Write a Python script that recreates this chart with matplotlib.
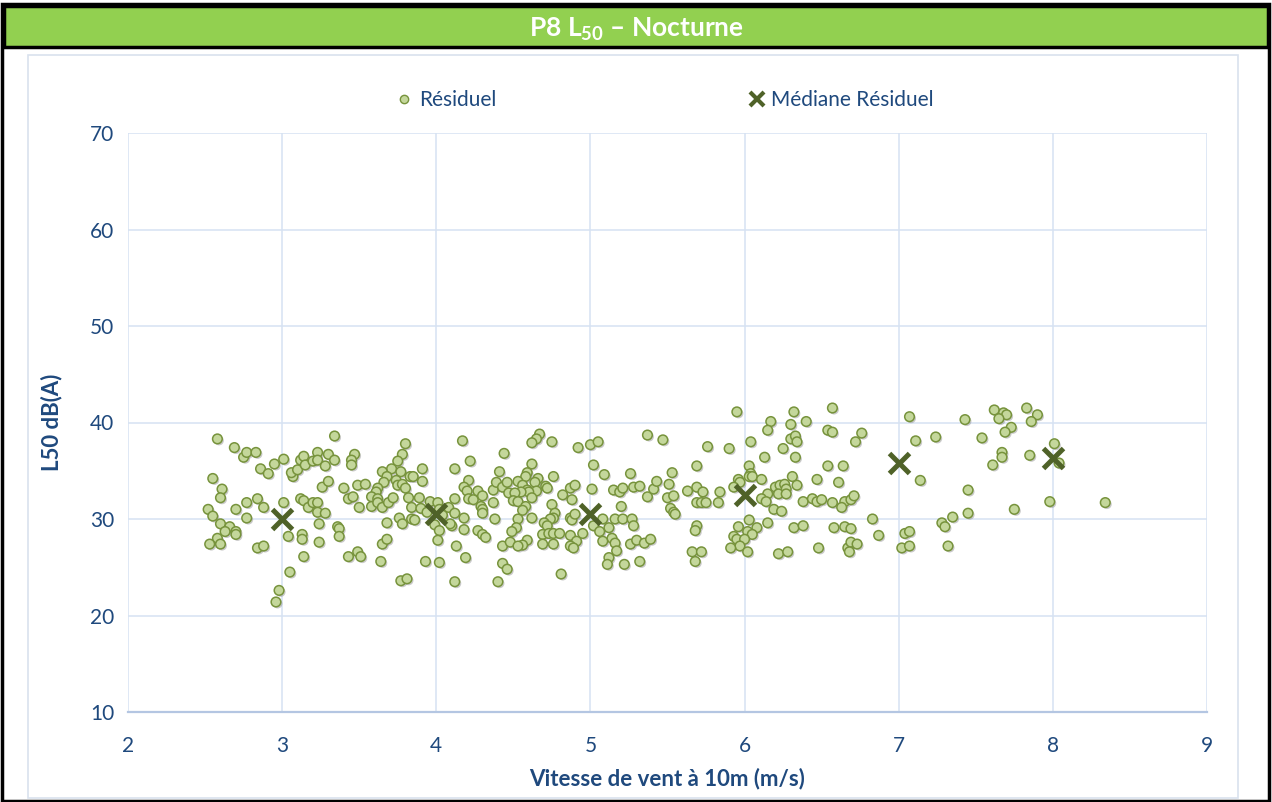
import matplotlib
matplotlib.use("Agg")
import matplotlib.pyplot as plt
import matplotlib.patheffects as pe
from matplotlib.patches import Rectangle
from matplotlib.lines import Line2D

plt.rcParams.update({
    "font.family": ["Lato", "DejaVu Sans"],
    "mathtext.fontset": "custom",
    "mathtext.rm": "Lato",
    "mathtext.bf": "Lato:bold",
})

NAVY = "#1F497D"
GRID = "#D6E2F2"
GREEN_HEAD = "#92D050"
PT_FILL = "#C4D79B"
PT_EDGE = "#77933C"
MED_COL = "#4F6228"

# ---------- données ----------
# vent 2.5 - 3.45 m/s
vent_a = [2.58, 2.69, 2.75, 2.77, 2.83, 2.95, 3.01, 2.86, 2.91, 2.55, 2.61, 2.60, 2.52,
          2.55, 2.70, 2.77, 2.84, 2.88, 2.77, 3.01, 2.60, 2.66, 2.63, 2.70, 2.70, 2.58,
          2.53, 2.60, 2.84, 2.88, 3.04, 3.05, 2.98, 2.96, 3.34, 3.07, 3.06, 3.10, 3.12,
          3.14, 3.15, 3.20, 3.23, 3.23, 3.28, 3.30, 3.34, 3.26, 3.30, 3.40, 3.12, 3.14,
          3.17, 3.20, 3.23, 3.23, 3.28, 3.24, 3.13, 3.13, 3.24, 3.14, 3.36, 3.37, 3.37,
          3.43, 3.43, 3.46]
l50_a = [38.3, 37.4, 36.4, 36.9, 36.9, 35.7, 36.2, 35.2, 34.7, 34.2, 33.1, 32.2, 31.0,
         30.3, 31.0, 31.7, 32.1, 31.2, 30.1, 31.7, 29.5, 29.2, 28.7, 28.7, 28.4, 28.0,
         27.4, 27.4, 27.0, 27.2, 28.2, 24.5, 22.6, 21.4, 38.6, 34.4, 34.8, 35.1, 36.1,
         36.5, 35.6, 36.0, 36.9, 36.1, 35.5, 36.7, 36.1, 33.3, 33.9, 33.2, 32.1, 31.9,
         31.2, 31.7, 31.7, 30.7, 30.6, 29.5, 28.4, 27.9, 27.6, 26.1, 29.2, 29.0, 28.2,
         26.1, 32.1, 32.3]

# vent 3.45 - 4.5 m/s
vent_b = [3.80, 3.78, 3.75, 3.71, 3.77, 3.65, 3.68, 3.66, 3.74, 3.75, 3.78, 3.80, 3.83,
          3.85, 3.91, 3.91, 3.47, 3.45, 3.45, 3.49, 3.54, 3.62, 3.61, 3.50, 3.58, 3.58,
          3.62, 3.62, 3.65, 3.69, 3.72, 3.82, 3.84, 3.89, 3.90, 3.96, 4.01, 4.02, 3.94,
          3.76, 3.78, 3.84, 3.86, 3.68, 3.99, 4.02, 4.01, 4.04, 4.08, 4.10, 4.09, 4.12,
          4.12, 4.18, 4.18, 3.65, 3.68, 3.49, 3.51, 3.64, 3.93, 4.02, 3.77, 3.81, 4.12,
          4.19, 4.13, 4.17, 4.22, 4.12, 4.21, 4.18, 4.20, 4.21, 4.24, 4.27, 4.30, 4.29,
          4.30, 4.30, 4.37, 4.38, 4.37, 4.39, 4.41, 4.44, 4.43, 4.46, 4.47, 4.27, 4.30,
          4.32, 4.43, 4.43, 4.46, 4.40]
l50_b = [37.8, 36.7, 36.0, 35.2, 34.9, 34.9, 34.4, 33.8, 34.0, 33.5, 33.6, 33.2, 34.4,
         34.4, 35.2, 33.9, 36.7, 36.1, 35.6, 33.5, 33.6, 33.2, 32.8, 31.2, 32.3, 31.3,
         32.1, 31.7, 31.2, 31.7, 32.2, 32.2, 31.2, 32.2, 31.1, 31.8, 31.7, 31.0, 30.7,
         30.1, 29.5, 30.0, 29.9, 29.6, 29.4, 28.8, 27.8, 30.4, 31.2, 29.3, 29.5, 32.1,
         30.6, 30.1, 28.9, 27.4, 27.9, 26.6, 26.1, 25.6, 25.6, 25.5, 23.6, 23.8, 23.5,
         26.0, 27.2, 38.1, 36.0, 35.2, 34.0, 33.3, 32.9, 32.1, 32.0, 32.9, 32.4, 31.3,
         31.0, 30.6, 31.7, 30.0, 33.0, 33.8, 34.9, 36.8, 33.3, 33.8, 32.7, 28.8, 28.4,
         28.1, 27.2, 25.4, 24.8, 23.5]

# vent 4.5 - 5.5 m/s
vent_c = [4.67, 4.65, 4.62, 4.75, 4.92, 5.00, 5.05, 5.37, 5.47, 4.62, 5.02, 4.59, 4.58,
          4.66, 4.64, 4.53, 4.56, 4.76, 4.71, 4.72, 4.65, 4.59, 4.60, 4.55, 4.51, 4.62,
          4.50, 4.53, 4.58, 4.56, 4.75, 4.82, 4.87, 4.90, 4.88, 5.09, 5.01, 5.26, 5.15,
          5.19, 5.21, 5.28, 5.32, 5.37, 5.41, 5.43, 5.20, 5.16, 5.21, 5.27, 5.28, 5.08,
          4.53, 4.62, 4.77, 4.76, 4.74, 4.70, 4.72, 4.87, 4.88, 4.90, 4.52, 4.49, 4.69,
          4.73, 4.76, 4.80, 4.95, 4.87, 5.02, 5.12, 5.06, 5.14, 5.16, 5.08, 4.91, 4.87,
          4.89, 4.69, 4.76, 4.59, 4.56, 4.48, 4.53, 5.17, 5.26, 5.30, 5.35, 5.39, 5.12,
          5.11, 5.22, 5.32, 4.81]
l50_c = [38.8, 38.3, 37.9, 38.0, 37.4, 37.7, 38.0, 38.7, 38.2, 35.7, 35.6, 34.8, 34.4,
         34.2, 33.8, 33.9, 33.5, 34.4, 33.4, 33.2, 32.9, 33.0, 32.8, 32.8, 32.7, 32.2,
         31.9, 31.8, 31.3, 30.9, 31.5, 32.5, 33.2, 33.5, 32.0, 34.6, 33.1, 34.7, 33.0,
         32.8, 33.2, 33.3, 33.4, 32.3, 33.1, 33.9, 31.3, 30.0, 30.0, 30.0, 29.3, 30.0,
         30.0, 30.1, 30.6, 30.1, 30.0, 29.6, 29.3, 30.1, 29.9, 30.5, 29.1, 28.7, 28.4,
         28.5, 28.5, 28.5, 28.5, 28.3, 29.3, 29.1, 28.7, 28.0, 27.5, 27.7, 27.7, 27.2,
         27.0, 27.4, 27.4, 27.8, 27.3, 27.6, 27.2, 26.7, 27.4, 27.8, 27.5, 27.9, 26.0,
         25.3, 25.3, 25.6, 24.3]

# vent 5.5 - 6.5 m/s
vent_d = [5.95, 6.32, 6.17, 6.30, 6.40, 6.15, 6.30, 6.33, 6.34, 6.25, 6.33, 5.76, 5.90,
          6.04, 6.13, 5.69, 5.53, 6.03, 6.04, 6.03, 5.96, 6.05, 6.11, 5.97, 6.31, 6.34,
          6.47, 5.51, 5.69, 5.73, 5.63, 5.84, 5.93, 5.50, 5.54, 6.20, 6.23, 6.26, 6.27,
          6.22, 6.27, 6.15, 6.11, 6.14, 6.38, 6.44, 6.47, 5.69, 5.72, 5.75, 5.83, 5.52,
          5.54, 5.55, 6.19, 6.24, 6.03, 6.15, 5.69, 5.68, 5.96, 6.08, 5.93, 6.02, 6.05,
          5.95, 6.00, 5.97, 5.91, 6.32, 6.38, 6.48, 5.66, 5.72, 5.68, 6.02, 6.22, 6.28]
l50_d = [41.1, 41.1, 40.1, 39.8, 40.1, 39.2, 38.3, 38.6, 38.0, 37.3, 36.4, 37.5, 37.3,
         38.0, 36.4, 35.5, 34.8, 35.5, 34.7, 34.4, 34.1, 34.4, 34.1, 33.8, 34.4, 33.5,
         34.1, 33.6, 33.3, 32.8, 32.9, 32.8, 33.3, 32.2, 32.4, 33.3, 33.5, 33.6, 33.1,
         32.6, 32.6, 32.6, 32.1, 31.8, 31.8, 32.1, 31.8, 31.7, 31.7, 31.7, 31.7, 31.1,
         30.7, 30.5, 31.0, 30.8, 29.9, 29.6, 29.3, 28.8, 29.2, 29.1, 28.2, 28.7, 28.4,
         27.9, 27.9, 27.2, 27.0, 29.1, 29.3, 27.0, 26.6, 26.6, 25.6, 26.6, 26.4, 26.6]

# vent 6.5 - 8.4 m/s
vent_e = [6.57, 7.07, 7.43, 6.54, 6.57, 6.76, 6.72, 7.11, 7.24, 6.54, 6.64, 6.61, 7.14,
          6.50, 6.57, 6.65, 6.63, 6.69, 6.71, 6.83, 7.35, 7.28, 7.30, 6.58, 6.65, 6.69,
          6.87, 7.04, 7.07, 6.67, 6.69, 6.73, 6.68, 7.02, 7.07, 7.32, 7.45, 7.45, 7.62,
          7.68, 7.70, 7.65, 7.83, 7.90, 7.86, 7.73, 7.69, 7.54, 7.67, 7.67, 7.61, 7.85,
          8.01, 8.04, 7.75, 7.98, 8.34]
l50_e = [41.5, 40.6, 40.3, 39.2, 39.0, 38.9, 38.0, 38.1, 38.5, 35.5, 35.5, 33.8, 34.0,
         32.0, 31.7, 31.8, 31.2, 32.0, 32.4, 30.0, 30.2, 29.6, 29.2, 29.1, 29.2, 29.0,
         28.3, 28.5, 28.7, 27.0, 27.6, 27.4, 26.6, 27.0, 27.2, 27.2, 33.0, 30.6, 41.3,
         41.0, 40.8, 40.4, 41.5, 40.8, 40.1, 39.5, 39.0, 38.4, 36.9, 36.4, 35.6, 36.6,
         37.8, 35.8, 31.0, 31.8, 31.7]

# médianes par classe de vent
vent_med = [3, 4, 5, 6, 7, 8]
l50_med = [30.0, 30.5, 30.5, 32.5, 35.8, 36.3]

W, H = 1272, 802


def fx(px):
    return px / W


def fy(py):
    return 1 - py / H


fig = plt.figure(figsize=(W / 100, H / 100), dpi=100)

# cadre extérieur + bandeau titre
fig.patches.append(Rectangle((fx(28), fy(798)), fx(1238) - fx(28), fy(55) - fy(798),
                             transform=fig.transFigure, fill=False,
                             edgecolor="#D9E2EE", lw=1.2, zorder=0))
fig.patches.append(Rectangle((fx(4), fy(47)), fx(1268) - fx(4), fy(6) - fy(47),
                             transform=fig.transFigure, facecolor=GREEN_HEAD,
                             edgecolor="black", lw=2.5, zorder=1))
fig.patches.append(Rectangle((fx(2), fy(801)), fx(1269) - fx(2), fy(4) - fy(801),
                             transform=fig.transFigure, fill=False,
                             edgecolor="black", lw=2.5, zorder=2))
fig.text(0.5, fy(29), r"P8 $\mathbf{L_{50}}$ – Nocturne", ha="center", va="center",
         color="white", fontsize=19, fontweight="bold")

ax = fig.add_axes([fx(128), fy(712), fx(1207) - fx(128), fy(133) - fy(712)])

shadow = [pe.SimplePatchShadow(offset=(1.2, -1.2), shadow_rgbFace="#8a8a8a", alpha=0.45),
          pe.Normal()]
for vx, vy in [(vent_a, l50_a), (vent_b, l50_b), (vent_c, l50_c),
               (vent_d, l50_d), (vent_e, l50_e)]:
    sc = ax.scatter(vx, vy, s=48, c=PT_FILL, edgecolors=PT_EDGE, linewidths=1.1, zorder=3)
    sc.set_path_effects(shadow)

ax.plot(vent_med, l50_med, ls="none", marker="x", markersize=15, mew=3.6,
        color=MED_COL, zorder=4)

ax.set_xlim(2, 9)
ax.set_ylim(10, 70)
ax.set_xticks(range(2, 10))
ax.set_yticks(range(10, 71, 10))
ax.grid(True, color=GRID, lw=1.1)
ax.set_axisbelow(True)
for side in ["top", "right", "left"]:
    ax.spines[side].set_visible(False)
ax.spines["bottom"].set_color("#B4C6E2")
ax.spines["bottom"].set_linewidth(1.6)
ax.tick_params(length=0, colors=NAVY, labelsize=15, pad=10)
ax.tick_params(axis="x", pad=17)

ax.set_xlabel("Vitesse de vent à 10m (m/s)", color=NAVY, fontsize=16,
              fontweight="bold", labelpad=9)
ax.set_ylabel("L50 dB(A)", color=NAVY, fontsize=16, fontweight="bold", labelpad=20)

handles = [
    Line2D([], [], ls="none", marker="o", markersize=6, markerfacecolor=PT_FILL,
           markeredgecolor=PT_EDGE, markeredgewidth=1.0),
    Line2D([], [], ls="none", marker="x", markersize=10, mew=3, color=MED_COL),
]
fig.legend(handles, ["Résiduel", "Médiane Résiduel"], loc="center",
           bbox_to_anchor=(fx(664), fy(100)), ncol=2, frameon=False,
           fontsize=15, labelcolor=NAVY, columnspacing=12.0, handletextpad=0.2,
           handlelength=1.0)

fig.savefig("out.png", dpi=100)
